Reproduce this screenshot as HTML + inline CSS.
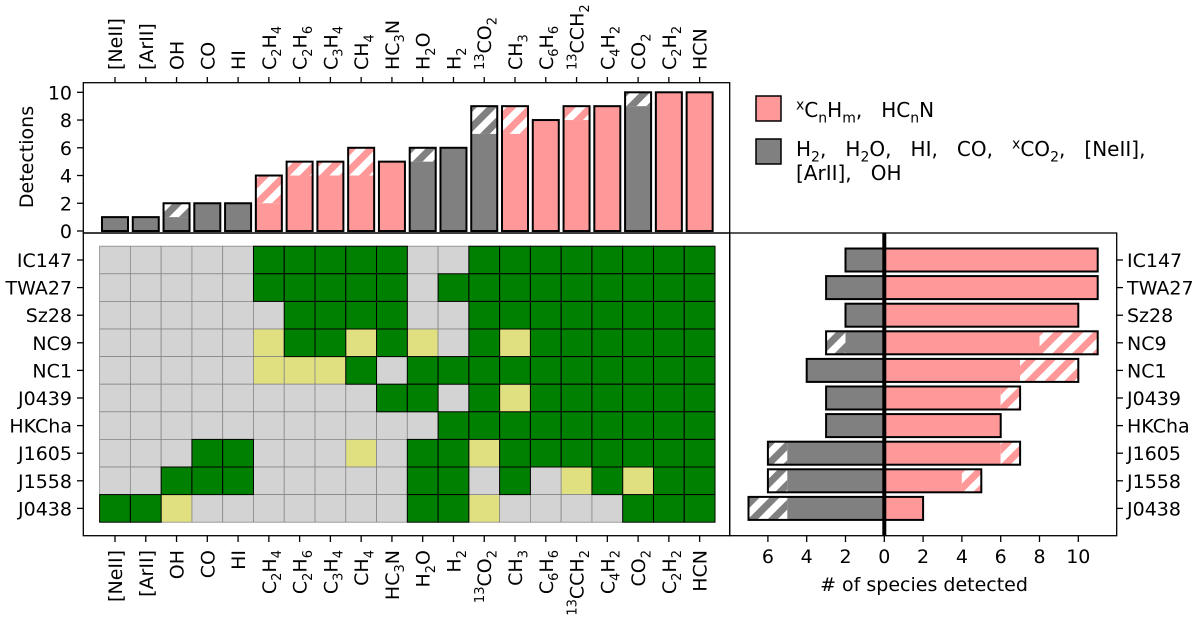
<!DOCTYPE html>
<html><head><meta charset="utf-8"><style>
body{margin:0;background:#fff}
svg{display:block;font-family:"DejaVu Sans","Liberation Sans",sans-serif}
.pre{white-space:pre}
</style></head><body>
<svg id="chart" width="1200" height="618" viewBox="0 0 1200 618">
<defs>
<pattern id="hp" patternUnits="userSpaceOnUse" width="14" height="14" patternTransform="rotate(45)"><rect width="14" height="14" fill="#fff"/><rect width="7" height="14" fill="#ff9999"/></pattern>
<pattern id="hg" patternUnits="userSpaceOnUse" width="14" height="14" patternTransform="rotate(45)"><rect width="14" height="14" fill="#fff"/><rect width="7" height="14" fill="#808080"/></pattern>
</defs>
</svg>
<script>
const species=["[NeII]","[ArII]","OH","CO","HI","C_2H_4","C_2H_6","C_3H_4","CH_4","HC_3N","H_2O","H_2","^13CO_2","CH_3","C_6H_6","^13CCH_2","C_4H_2","CO_2","C_2H_2","HCN"];
const inorganic=[1,1,1,1,1,0,0,0,0,0,1,1,1,0,0,0,0,1,0,0];
const topTotal=[1,1,2,2,2,4,5,5,6,5,6,6,9,9,8,9,9,10,10,10];
const topSolid=[1,1,1,2,2,2,4,4,4,5,5,6,7,7,8,8,9,9,10,10];
const sources=["IC147","TWA27","Sz28","NC9","NC1","J0439","HKCha","J1605","J1558","J0438"];
const grid=[
".....GGGGG..GGGGGGGG",
".....GGGGG.GGGGGGGGG",
"......GGGG..GGGGGGGG",
".....YGGYGY.GYGGGGGG",
".....YYYG.GGGGGGGGGG",
".........GG.GYGGGGGG",
"...........GGGGGGGGG",
"...GG...Y.GGYGGGGGGG",
"..GGG.....GG.G.YGYGG",
"GGY.......GGY....GGG"];
const orgTotal=[11,11,10,11,10,7,6,7,5,2];
const orgSolid=[11,11,10,8,7,6,6,6,4,2];
const inoTotal=[2,3,2,3,4,3,3,6,6,7];
const inoSolid=[2,3,2,2,4,3,3,5,5,5];
const yTicks=[0,2,4,6,8,10];
const xTicks=[-6,-4,-2,0,2,4,6,8,10];

const svg=document.getElementById('chart');
const NS='http://www.w3.org/2000/svg';
function el(t,a,p){const e=document.createElementNS(NS,t);for(const k in a)e.setAttribute(k,a[k]);(p||svg).appendChild(e);return e;}
const PINK='#ff9999',GRAY='#808080';
const colX=i=>115+i*30.77, colW=30.77;
const rowY=j=>260+j*27.6, rowH=27.6;
const topY=v=>231-v*13.87;
const rX=v=>884.3+v*19.4;
const FS=19;

function richText(parent,s,attrs,fs){
  const t=el('text',attrs,parent);
  const small=Math.round(fs*0.7);
  let i=0,cur=0;
  while(i<s.length){
    let c=s[i];
    if(c==='_'||c==='^'){
      let j=i+1,buf='';
      if(c==='_'){buf=s[j];j++;}else{while(j<s.length&&/[0-9a-z]/.test(s[j])&&(buf===''||/[0-9]/.test(s[j]))){buf+=s[j];j++;}}
      const target=c==='_'?fs*0.28:-fs*0.38;
      const ts=el('tspan',{'font-size':small+'px',dy:(target-cur).toFixed(1)},t);ts.textContent=buf;
      cur=target;i=j;
    }else{
      let buf='';while(i<s.length&&s[i]!=='_'&&s[i]!=='^'){buf+=s[i];i++;}
      const ts=el('tspan',{dy:(-cur).toFixed(1)},t);ts.textContent=buf;cur=0;
    }
  }
  return t;
}

// ---- top panel ----
const gTop=el('g',{});


species.forEach((s,i)=>{
  const x=colX(i)-13,w=26,col=inorganic[i]?GRAY:PINK;
  const g=el('g',{},gTop);
  
  
  if(topTotal[i]>topSolid[i]) el('rect',{x:x,y:topY(topTotal[i]),width:w,height:topY(topSolid[i])-topY(topTotal[i]),fill:inorganic[i]?'url(#hg)':'url(#hp)'},g);
  el('rect',{x:x,y:topY(topSolid[i]),width:w,height:topY(0)-topY(topSolid[i]),fill:col},g);
  el('rect',{x:x,y:topY(topTotal[i]),width:w,height:topY(0)-topY(topTotal[i]),fill:'none',stroke:'#000','stroke-width':2},g);
  el('line',{x1:colX(i),x2:colX(i),y1:82.7,y2:77,stroke:'#000','stroke-width':1.3},gTop);
  const lt=richText(gTop,s,{x:colX(i)+7,y:70,transform:`rotate(-90 ${colX(i)+7} 70)`,'font-size':FS+'px'},FS);
  
  
});
el('rect',{x:83.3,y:82.7,width:646.4,height:150.3,fill:'none',stroke:'#000','stroke-width':1.3},gTop);
yTicks.forEach(v=>{
  el('line',{x1:83.3,x2:77,y1:topY(v),y2:topY(v),stroke:'#000','stroke-width':1.3},gTop);
  const t=el('text',{x:72,y:topY(v)+7,'text-anchor':'end','font-size':FS+'px'},gTop);t.textContent=v;
  
  
});
const yt=el('text',{x:33,y:157,transform:'rotate(-90 33 157)','text-anchor':'middle','font-size':FS+'px'});
yt.textContent='Detections';



// ---- legend ----
const lg=el('g',{});


el('rect',{x:756,y:96,width:25,height:25,fill:PINK,stroke:'#000','stroke-width':1.5},lg);
el('rect',{x:756,y:139,width:25,height:25,fill:GRAY,stroke:'#000','stroke-width':1.5},lg);
const l1=richText(lg,"^xC_nH_m,   HC_nN",{x:796,y:117,'font-size':'20px','class':'pre'},20);


const l2=richText(lg,"H_2,   H_2O,   HI,   CO,   ^xCO_2,   [NeII],",{x:796,y:156,'font-size':'20px','class':'pre'},20);


const l3=richText(lg,"[ArII],   OH",{x:796,y:180,'font-size':'20px','class':'pre'},20);



// ---- heatmap ----
const gH=el('g',{});


const colors={'G':'#008000','Y':'#e0e080','.':'#d3d3d3'};
grid.forEach((row,j)=>{
  [...row].forEach((c,i)=>{
    const r=el('rect',{x:colX(i)-colW/2,y:rowY(j)-rowH/2,width:colW,height:rowH,fill:colors[c],stroke:c==='G'?'#000':'#888','stroke-width':c==='G'?1:0.8},gH);
    
    
  });
});
gH.querySelectorAll('rect').forEach(r=>{if(r.getAttribute('fill')==='#008000')gH.appendChild(r);});
el('rect',{x:83.3,y:233,width:646.4,height:302.7,fill:'none',stroke:'#000','stroke-width':1.3},gH);
sources.forEach((s,j)=>{
  el('line',{x1:83.3,x2:77,y1:rowY(j),y2:rowY(j),stroke:'#000','stroke-width':1.3},gH);
  const t=el('text',{x:72,y:rowY(j)+7,'text-anchor':'end','font-size':FS+'px'},gH);t.textContent=s;
  
  
});
species.forEach((s,i)=>{
  el('line',{x1:colX(i),x2:colX(i),y1:535.7,y2:542,stroke:'#000','stroke-width':1.3},gH);
  const t=richText(gH,s,{x:colX(i)+7,y:550,transform:`rotate(-90 ${colX(i)+7} 550)`,'text-anchor':'end','font-size':FS+'px'},FS);
  
  
});

// ---- right panel ----
const gR=el('g',{});


const bh=23;
sources.forEach((s,j)=>{
  const y=rowY(j)-bh/2;
  const g=el('g',{},gR);
  
  
  if(inoTotal[j]>inoSolid[j]) el('rect',{x:rX(-inoTotal[j]),y:y,width:rX(-inoSolid[j])-rX(-inoTotal[j]),height:bh,fill:'url(#hg)'},g);
  el('rect',{x:rX(-inoSolid[j]),y:y,width:rX(0)-rX(-inoSolid[j]),height:bh,fill:GRAY},g);
  el('rect',{x:rX(-inoTotal[j]),y:y,width:rX(0)-rX(-inoTotal[j]),height:bh,fill:'none',stroke:'#000','stroke-width':2},g);
  el('rect',{x:rX(0),y:y,width:rX(orgSolid[j])-rX(0),height:bh,fill:PINK},g);
  if(orgTotal[j]>orgSolid[j]) el('rect',{x:rX(orgSolid[j]),y:y,width:rX(orgTotal[j])-rX(orgSolid[j]),height:bh,fill:'url(#hp)'},g);
  el('rect',{x:rX(0),y:y,width:rX(orgTotal[j])-rX(0),height:bh,fill:'none',stroke:'#000','stroke-width':2},g);
  el('line',{x1:1116.7,x2:1123,y1:rowY(j),y2:rowY(j),stroke:'#000','stroke-width':1.3},gR);
  const t=el('text',{x:1127,y:rowY(j)+7,'font-size':FS+'px'},gR);t.textContent=s;
  
  
});
el('line',{x1:rX(0),x2:rX(0),y1:233,y2:535.7,stroke:'#000','stroke-width':4},gR);
el('rect',{x:729.7,y:233,width:387,height:302.7,fill:'none',stroke:'#000','stroke-width':1.3},gR);
xTicks.forEach(v=>{
  el('line',{x1:rX(v),x2:rX(v),y1:535.7,y2:542,stroke:'#000','stroke-width':1.3},gR);
  const t=el('text',{x:rX(v),y:563,'text-anchor':'middle','font-size':FS+'px'},gR);t.textContent=Math.abs(v);
  
  
});
const xt=el('text',{x:924,y:591,'text-anchor':'middle','font-size':FS+'px'});
xt.textContent='# of species detected';


</script>
</body></html>
